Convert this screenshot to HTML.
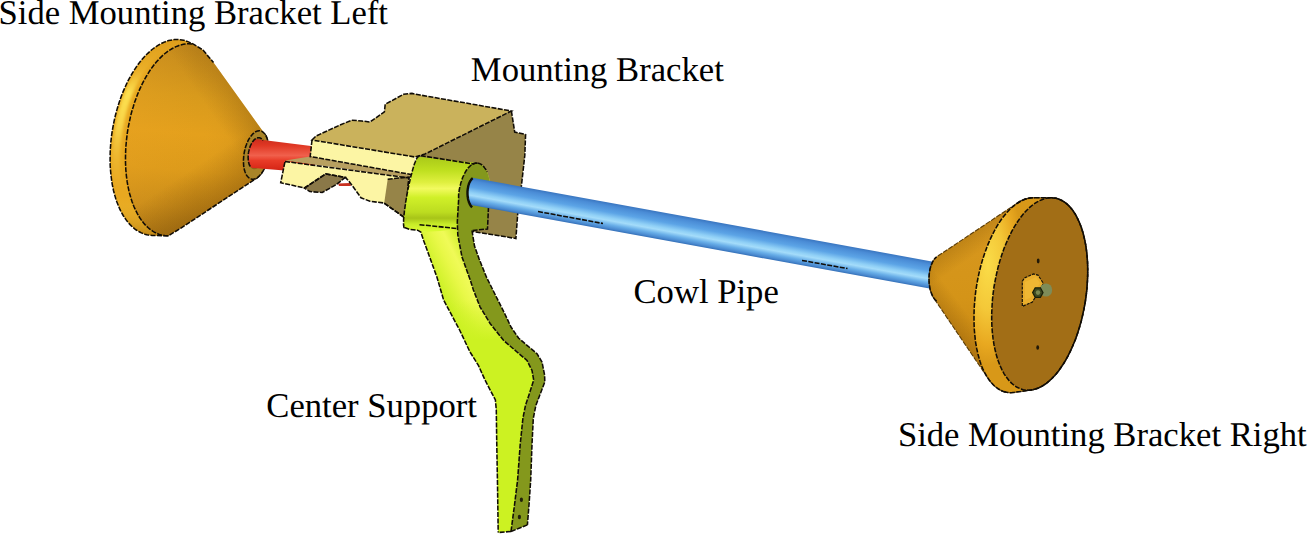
<!DOCTYPE html>
<html><head><meta charset="utf-8"><style>
html,body{margin:0;padding:0;background:#fff;width:1307px;height:537px;overflow:hidden}
svg{display:block}
text{font-family:"Liberation Serif",serif;font-size:34.63px;fill:#000;text-rendering:geometricPrecision}
</style></head><body>
<svg width="1307" height="537" viewBox="0 0 1307 537">
<defs><linearGradient id="lrim" gradientUnits="userSpaceOnUse" x1="109" y1="0" x2="128" y2="0">
<stop offset="0" stop-color="#e8a820"/><stop offset="0.35" stop-color="#f8d040"/><stop offset="0.65" stop-color="#f0bc30"/><stop offset="1" stop-color="#e0a020"/></linearGradient><linearGradient id="lrimv" gradientUnits="userSpaceOnUse" x1="0" y1="41" x2="0" y2="236">
<stop offset="0" stop-color="#d89818" stop-opacity="0.6"/><stop offset="0.2" stop-color="#e0a020" stop-opacity="0"/><stop offset="0.8" stop-color="#f8d040" stop-opacity="0"/><stop offset="1" stop-color="#b07810" stop-opacity="0.7"/></linearGradient><linearGradient id="lcone" gradientUnits="userSpaceOnUse" x1="200" y1="50" x2="185" y2="236">
<stop offset="0" stop-color="#c48a1c"/><stop offset="0.25" stop-color="#d89a1c"/><stop offset="0.45" stop-color="#e4a01c"/><stop offset="0.65" stop-color="#dc9a1a"/><stop offset="0.85" stop-color="#c48818"/><stop offset="1" stop-color="#a87414"/></linearGradient><linearGradient id="lconeh" gradientUnits="userSpaceOnUse" x1="130" y1="0" x2="265" y2="0">
<stop offset="0" stop-color="#eaa424" stop-opacity="0.3"/><stop offset="0.5" stop-color="#eaa424" stop-opacity="0"/><stop offset="1" stop-color="#805808" stop-opacity="0.25"/></linearGradient><clipPath id="lrimclip"><path d="M110.1,159.1 L110.1,155.8 L110.2,152.4 L110.3,149.0 L110.6,145.6 L110.8,142.2 L111.2,138.8 L111.6,135.3 L112.1,131.9 L112.7,128.5 L113.3,125.1 L114.0,121.7 L114.7,118.4 L115.5,115.0 L116.4,111.7 L117.3,108.4 L118.3,105.2 L119.3,102.0 L120.4,98.8 L121.5,95.7 L122.7,92.6 L124.0,89.6 L125.3,86.7 L126.6,83.8 L128.0,80.9 L129.5,78.2 L131.0,75.5 L132.5,72.9 L134.1,70.3 L135.7,67.9 L137.3,65.5 L139.0,63.2 L140.7,61.1 L142.4,59.0 L144.2,57.0 L146.0,55.1 L147.8,53.3 L149.7,51.6 L151.5,50.0 L153.4,48.5 L155.3,47.1 L157.2,45.9 L159.1,44.7 L161.0,43.7 L162.9,42.7 L164.8,41.9 L166.8,41.2 L168.7,40.6 L170.6,40.2 L172.5,39.8 L174.4,39.6 L176.3,39.5 L178.2,39.5 L180.0,39.7 L181.9,39.9 L183.7,40.3 L185.5,40.8 L187.3,41.4 L189.0,42.1 L190.8,43.0 L192.4,43.9 L194.1,45.0 L195.7,46.2 L197.3,47.5 L198.8,48.9 L200.3,50.4 L201.8,52.0 L203.2,53.7 L204.6,55.5 L205.9,57.5 L207.2,59.5 L208.4,61.6 L209.6,63.8 L210.7,66.1 L211.8,68.5 L212.8,71.0 L213.7,73.5 L214.6,76.2 L215.4,78.9 L216.2,81.7 L216.9,84.5 L217.5,87.4 L218.1,90.4 L218.6,93.4 L219.0,96.5 L219.4,99.6 L219.7,102.8 L220.0,106.0 L220.2,109.3 L220.3,112.6 L220.3,115.9 L220.3,119.2 L220.2,122.6 L220.1,126.0 L219.8,129.4 L219.6,132.8 L219.2,136.2 L218.8,139.7 L218.3,143.1 L217.7,146.5 L217.1,149.9 L216.4,153.3 L215.7,156.6 L214.9,160.0 L214.0,163.3 L213.1,166.6 L212.1,169.8 L211.1,173.0 L210.0,176.2 L208.9,179.3 L207.7,182.4 L206.4,185.4 L205.1,188.3 L203.8,191.2 L202.4,194.1 L200.9,196.8 L199.4,199.5 L197.9,202.1 L196.3,204.7 L194.7,207.1 L193.1,209.5 L191.4,211.8 L189.7,213.9 L188.0,216.0 L186.2,218.0 L184.4,219.9 L182.6,221.7 L168.3,235.8 L152.2,235.5 L150.4,235.3 L148.5,235.1 L146.7,234.7 L144.9,234.2 L143.1,233.6 L141.4,232.9 L139.7,232.0 L138.0,231.1 L136.3,230.0 L134.7,228.8 L133.1,227.5 L131.6,226.1 L130.1,224.6 L128.6,223.0 L127.2,221.3 L125.8,219.4 L124.5,217.5 L123.2,215.5 L122.0,213.4 L120.8,211.2 L119.7,208.9 L118.7,206.5 L117.7,204.0 L116.7,201.5 L115.8,198.8 L115.0,196.1 L114.2,193.3 L113.5,190.5 L112.9,187.6 L112.3,184.6 L111.8,181.6 L111.4,178.5 L111.0,175.4 L110.7,172.2 L110.4,169.0 L110.2,165.7 L110.1,162.4 Z"/></clipPath><linearGradient id="lrimhl" gradientUnits="userSpaceOnUse" x1="0" y1="41" x2="0" y2="236">
<stop offset="0" stop-color="#f8d040" stop-opacity="0"/><stop offset="0.18" stop-color="#f6c83c" stop-opacity="0.35"/><stop offset="0.3" stop-color="#fce050" stop-opacity="1"/><stop offset="0.48" stop-color="#f8d448" stop-opacity="1"/><stop offset="0.64" stop-color="#f4c840" stop-opacity="0.45"/><stop offset="0.8" stop-color="#f0c038" stop-opacity="0"/></linearGradient><filter id="blur2" x="-20%" y="-20%" width="140%" height="140%"><feGaussianBlur stdDeviation="1.5"/></filter><linearGradient id="lcb" gradientUnits="userSpaceOnUse" x1="214" y1="206" x2="190" y2="170">
<stop offset="0" stop-color="#805008" stop-opacity="0.4"/><stop offset="1" stop-color="#805008" stop-opacity="0"/></linearGradient><linearGradient id="lct" gradientUnits="userSpaceOnUse" x1="236" y1="94" x2="210" y2="112">
<stop offset="0" stop-color="#906010" stop-opacity="0.3"/><stop offset="1" stop-color="#906010" stop-opacity="0"/></linearGradient><linearGradient id="red" gradientUnits="userSpaceOnUse" x1="0" y1="139" x2="0" y2="172">
<stop offset="0" stop-color="#cc2c1c"/><stop offset="0.2" stop-color="#e03824"/><stop offset="0.5" stop-color="#f0604c"/><stop offset="0.65" stop-color="#e83c28"/><stop offset="0.9" stop-color="#d82818"/><stop offset="1" stop-color="#b82010"/></linearGradient><linearGradient id="ring" gradientUnits="userSpaceOnUse" x1="0" y1="156" x2="0" y2="230">
<stop offset="0" stop-color="#a8c818"/><stop offset="0.2" stop-color="#c0e020"/><stop offset="0.36" stop-color="#e0f040"/><stop offset="0.44" stop-color="#f2fa60"/><stop offset="0.56" stop-color="#d0f028"/><stop offset="0.76" stop-color="#bcdc20"/><stop offset="0.84" stop-color="#a8c418"/><stop offset="0.92" stop-color="#c8ec28"/><stop offset="1" stop-color="#d8f830"/></linearGradient><linearGradient id="arm" gradientUnits="userSpaceOnUse" x1="424" y1="262" x2="466" y2="241">
<stop offset="0" stop-color="#c8f020"/><stop offset="0.45" stop-color="#e8f848"/><stop offset="0.65" stop-color="#f0fa58"/><stop offset="1" stop-color="#c8ec20"/></linearGradient><linearGradient id="armv" gradientUnits="userSpaceOnUse" x1="0" y1="300" x2="0" y2="340">
<stop offset="0" stop-color="#ccf222" stop-opacity="0"/><stop offset="1" stop-color="#ccf222" stop-opacity="1"/></linearGradient><linearGradient id="blueR" x1="0" y1="0" x2="0" y2="1">
<stop offset="0" stop-color="#3a76c0"/><stop offset="0.12" stop-color="#4a8cd6"/><stop offset="0.35" stop-color="#5ca4e6"/><stop offset="0.55" stop-color="#90d0f6"/><stop offset="0.65" stop-color="#a4dcfa"/><stop offset="0.8" stop-color="#68aee8"/><stop offset="0.93" stop-color="#4a8ad0"/><stop offset="1" stop-color="#3470b8"/></linearGradient><clipPath id="pclip"><ellipse cx="475.5" cy="193" rx="8" ry="15.8"/><rect x="475.5" y="0" width="600" height="537"/></clipPath><linearGradient id="rcone" gradientUnits="userSpaceOnUse" x1="0" y1="205" x2="0" y2="390">
<stop offset="0" stop-color="#d89820"/><stop offset="0.5" stop-color="#d49418"/><stop offset="1" stop-color="#c08010"/></linearGradient><radialGradient id="rrim" gradientUnits="userSpaceOnUse" cx="988" cy="265" r="100" gradientTransform="translate(988 265) scale(0.35 1) translate(-988 -265)">
<stop offset="0" stop-color="#fadc48"/><stop offset="0.45" stop-color="#f4c838"/><stop offset="0.8" stop-color="#e8a820"/><stop offset="1" stop-color="#d89818"/></radialGradient><linearGradient id="rct" gradientUnits="userSpaceOnUse" x1="976" y1="231" x2="987" y2="247">
<stop offset="0" stop-color="#8a5a08" stop-opacity="0.3"/><stop offset="1" stop-color="#8a5a08" stop-opacity="0"/></linearGradient><linearGradient id="rcb" gradientUnits="userSpaceOnUse" x1="953" y1="325.5" x2="968" y2="314">
<stop offset="0" stop-color="#805008" stop-opacity="0.3"/><stop offset="1" stop-color="#805008" stop-opacity="0"/></linearGradient></defs>
<path d="M110.1,159.1 L110.1,155.8 L110.2,152.4 L110.3,149.0 L110.6,145.6 L110.8,142.2 L111.2,138.8 L111.6,135.3 L112.1,131.9 L112.7,128.5 L113.3,125.1 L114.0,121.7 L114.7,118.4 L115.5,115.0 L116.4,111.7 L117.3,108.4 L118.3,105.2 L119.3,102.0 L120.4,98.8 L121.5,95.7 L122.7,92.6 L124.0,89.6 L125.3,86.7 L126.6,83.8 L128.0,80.9 L129.5,78.2 L131.0,75.5 L132.5,72.9 L134.1,70.3 L135.7,67.9 L137.3,65.5 L139.0,63.2 L140.7,61.1 L142.4,59.0 L144.2,57.0 L146.0,55.1 L147.8,53.3 L149.7,51.6 L151.5,50.0 L153.4,48.5 L155.3,47.1 L157.2,45.9 L159.1,44.7 L161.0,43.7 L162.9,42.7 L164.8,41.9 L166.8,41.2 L168.7,40.6 L170.6,40.2 L172.5,39.8 L174.4,39.6 L176.3,39.5 L178.2,39.5 L180.0,39.7 L181.9,39.9 L183.7,40.3 L185.5,40.8 L187.3,41.4 L189.0,42.1 L190.8,43.0 L192.4,43.9 L194.1,45.0 L195.7,46.2 L197.3,47.5 L198.8,48.9 L200.3,50.4 L201.8,52.0 L203.2,53.7 L204.6,55.5 L205.9,57.5 L207.2,59.5 L208.4,61.6 L209.6,63.8 L210.7,66.1 L211.8,68.5 L212.8,71.0 L213.7,73.5 L214.6,76.2 L215.4,78.9 L216.2,81.7 L216.9,84.5 L217.5,87.4 L218.1,90.4 L218.6,93.4 L219.0,96.5 L219.4,99.6 L219.7,102.8 L220.0,106.0 L220.2,109.3 L220.3,112.6 L220.3,115.9 L220.3,119.2 L220.2,122.6 L220.1,126.0 L219.8,129.4 L219.6,132.8 L219.2,136.2 L218.8,139.7 L218.3,143.1 L217.7,146.5 L217.1,149.9 L216.4,153.3 L215.7,156.6 L214.9,160.0 L214.0,163.3 L213.1,166.6 L212.1,169.8 L211.1,173.0 L210.0,176.2 L208.9,179.3 L207.7,182.4 L206.4,185.4 L205.1,188.3 L203.8,191.2 L202.4,194.1 L200.9,196.8 L199.4,199.5 L197.9,202.1 L196.3,204.7 L194.7,207.1 L193.1,209.5 L191.4,211.8 L189.7,213.9 L188.0,216.0 L186.2,218.0 L184.4,219.9 L182.6,221.7 L168.3,235.8 L152.2,235.5 L150.4,235.3 L148.5,235.1 L146.7,234.7 L144.9,234.2 L143.1,233.6 L141.4,232.9 L139.7,232.0 L138.0,231.1 L136.3,230.0 L134.7,228.8 L133.1,227.5 L131.6,226.1 L130.1,224.6 L128.6,223.0 L127.2,221.3 L125.8,219.4 L124.5,217.5 L123.2,215.5 L122.0,213.4 L120.8,211.2 L119.7,208.9 L118.7,206.5 L117.7,204.0 L116.7,201.5 L115.8,198.8 L115.0,196.1 L114.2,193.3 L113.5,190.5 L112.9,187.6 L112.3,184.6 L111.8,181.6 L111.4,178.5 L111.0,175.4 L110.7,172.2 L110.4,169.0 L110.2,165.7 L110.1,162.4 Z" fill="#e8a820"/>
<g clip-path="url(#lrimclip)"><ellipse cx="170.39999999999998" cy="138.65" rx="52.5" ry="97.9" transform="rotate(9.149999999999999 170.39999999999998 138.65)" fill="none" stroke="url(#lrimhl)" stroke-width="8" filter="url(#blur2)"/></g>
<path d="M110.1,159.1 L110.1,155.8 L110.2,152.4 L110.3,149.0 L110.6,145.6 L110.8,142.2 L111.2,138.8 L111.6,135.3 L112.1,131.9 L112.7,128.5 L113.3,125.1 L114.0,121.7 L114.7,118.4 L115.5,115.0 L116.4,111.7 L117.3,108.4 L118.3,105.2 L119.3,102.0 L120.4,98.8 L121.5,95.7 L122.7,92.6 L124.0,89.6 L125.3,86.7 L126.6,83.8 L128.0,80.9 L129.5,78.2 L131.0,75.5 L132.5,72.9 L134.1,70.3 L135.7,67.9 L137.3,65.5 L139.0,63.2 L140.7,61.1 L142.4,59.0 L144.2,57.0 L146.0,55.1 L147.8,53.3 L149.7,51.6 L151.5,50.0 L153.4,48.5 L155.3,47.1 L157.2,45.9 L159.1,44.7 L161.0,43.7 L162.9,42.7 L164.8,41.9 L166.8,41.2 L168.7,40.6 L170.6,40.2 L172.5,39.8 L174.4,39.6 L176.3,39.5 L178.2,39.5 L180.0,39.7 L181.9,39.9 L183.7,40.3 L185.5,40.8 L187.3,41.4 L189.0,42.1 L190.8,43.0 L192.4,43.9 L194.1,45.0 L195.7,46.2 L197.3,47.5 L198.8,48.9 L200.3,50.4 L201.8,52.0 L203.2,53.7 L204.6,55.5 L205.9,57.5 L207.2,59.5 L208.4,61.6 L209.6,63.8 L210.7,66.1 L211.8,68.5 L212.8,71.0 L213.7,73.5 L214.6,76.2 L215.4,78.9 L216.2,81.7 L216.9,84.5 L217.5,87.4 L218.1,90.4 L218.6,93.4 L219.0,96.5 L219.4,99.6 L219.7,102.8 L220.0,106.0 L220.2,109.3 L220.3,112.6 L220.3,115.9 L220.3,119.2 L220.2,122.6 L220.1,126.0 L219.8,129.4 L219.6,132.8 L219.2,136.2 L218.8,139.7 L218.3,143.1 L217.7,146.5 L217.1,149.9 L216.4,153.3 L215.7,156.6 L214.9,160.0 L214.0,163.3 L213.1,166.6 L212.1,169.8 L211.1,173.0 L210.0,176.2 L208.9,179.3 L207.7,182.4 L206.4,185.4 L205.1,188.3 L203.8,191.2 L202.4,194.1 L200.9,196.8 L199.4,199.5 L197.9,202.1 L196.3,204.7 L194.7,207.1 L193.1,209.5 L191.4,211.8 L189.7,213.9 L188.0,216.0 L186.2,218.0 L184.4,219.9 L182.6,221.7 L168.3,235.8 L152.2,235.5 L150.4,235.3 L148.5,235.1 L146.7,234.7 L144.9,234.2 L143.1,233.6 L141.4,232.9 L139.7,232.0 L138.0,231.1 L136.3,230.0 L134.7,228.8 L133.1,227.5 L131.6,226.1 L130.1,224.6 L128.6,223.0 L127.2,221.3 L125.8,219.4 L124.5,217.5 L123.2,215.5 L122.0,213.4 L120.8,211.2 L119.7,208.9 L118.7,206.5 L117.7,204.0 L116.7,201.5 L115.8,198.8 L115.0,196.1 L114.2,193.3 L113.5,190.5 L112.9,187.6 L112.3,184.6 L111.8,181.6 L111.4,178.5 L111.0,175.4 L110.7,172.2 L110.4,169.0 L110.2,165.7 L110.1,162.4 Z" fill="url(#lrimv)"/>
<path d="M125.5,156.5 L125.5,153.2 L125.7,149.8 L125.9,146.5 L126.2,143.2 L126.5,139.8 L126.9,136.4 L127.3,133.1 L127.8,129.8 L128.4,126.4 L129.1,123.1 L129.8,119.8 L130.5,116.6 L131.3,113.3 L132.2,110.1 L133.2,107.0 L134.1,103.8 L135.2,100.7 L136.3,97.7 L137.4,94.7 L138.6,91.8 L139.9,88.9 L141.2,86.1 L142.5,83.4 L143.9,80.7 L145.3,78.1 L146.8,75.5 L148.3,73.1 L149.8,70.7 L151.4,68.4 L153.0,66.2 L154.6,64.1 L156.3,62.1 L158.0,60.2 L159.7,58.4 L161.5,56.6 L163.2,55.0 L165.0,53.5 L166.8,52.1 L168.6,50.8 L170.5,49.6 L172.3,48.5 L174.2,47.5 L176.0,46.6 L177.8,45.9 L179.7,45.2 L181.6,44.7 L183.4,44.3 L185.2,44.0 L187.1,43.8 L188.9,43.8 L193.4,44.1 L203.0,50.0 L213.5,62.6 L265.0,134.2 L265.3,134.7 L265.6,135.2 L265.9,135.6 L266.1,136.2 L266.4,136.7 L266.6,137.3 L266.9,137.9 L267.1,138.5 L267.3,139.1 L267.5,139.7 L267.6,140.4 L267.8,141.1 L267.9,141.8 L268.1,142.5 L268.2,143.2 L268.3,144.0 L268.4,144.7 L268.4,145.5 L268.5,146.3 L268.5,147.1 L268.6,147.9 L268.6,148.7 L268.6,149.5 L268.5,150.3 L268.5,151.2 L268.4,152.9 L268.3,153.7 L268.2,154.6 L268.1,155.4 L268.0,156.2 L267.8,157.1 L267.7,157.9 L267.5,158.8 L267.3,159.6 L267.1,160.4 L266.9,161.2 L266.7,162.1 L266.4,162.9 L266.2,163.7 L265.9,164.4 L265.6,165.2 L265.4,166.0 L265.1,166.7 L264.8,167.4 L264.4,168.2 L264.1,168.9 L263.8,169.6 L263.4,170.2 L263.1,170.9 L262.7,171.5 L262.3,172.1 L261.9,172.7 L261.6,173.3 L261.1,173.8 L260.8,174.3 L260.3,174.8 L259.9,175.3 L259.5,175.7 L259.1,176.2 L258.6,176.6 L258.2,176.9 L257.8,177.3 L257.4,177.6 L180.6,228.3 L168.3,235.8 L166.5,235.8 L164.7,235.6 L162.9,235.3 L161.1,234.9 L159.4,234.4 L157.7,233.7 L156.0,233.0 L154.3,232.1 L152.7,231.1 L151.1,230.0 L149.5,228.8 L148.0,227.5 L146.5,226.1 L145.0,224.6 L143.6,223.0 L142.2,221.2 L140.9,219.4 L139.6,217.5 L138.4,215.5 L137.2,213.4 L136.1,211.2 L135.0,208.9 L133.9,206.5 L133.0,204.1 L132.1,201.5 L131.2,198.9 L130.4,196.2 L129.6,193.5 L128.9,190.7 L128.3,187.8 L127.7,184.9 L127.2,181.9 L126.8,178.9 L126.4,175.8 L126.1,172.6 L125.8,169.5 L125.7,166.3 L125.5,163.0 L125.5,159.8 Z" fill="url(#lcone)"/>
<path d="M125.5,156.5 L125.5,153.2 L125.7,149.8 L125.9,146.5 L126.2,143.2 L126.5,139.8 L126.9,136.4 L127.3,133.1 L127.8,129.8 L128.4,126.4 L129.1,123.1 L129.8,119.8 L130.5,116.6 L131.3,113.3 L132.2,110.1 L133.2,107.0 L134.1,103.8 L135.2,100.7 L136.3,97.7 L137.4,94.7 L138.6,91.8 L139.9,88.9 L141.2,86.1 L142.5,83.4 L143.9,80.7 L145.3,78.1 L146.8,75.5 L148.3,73.1 L149.8,70.7 L151.4,68.4 L153.0,66.2 L154.6,64.1 L156.3,62.1 L158.0,60.2 L159.7,58.4 L161.5,56.6 L163.2,55.0 L165.0,53.5 L166.8,52.1 L168.6,50.8 L170.5,49.6 L172.3,48.5 L174.2,47.5 L176.0,46.6 L177.8,45.9 L179.7,45.2 L181.6,44.7 L183.4,44.3 L185.2,44.0 L187.1,43.8 L188.9,43.8 L193.4,44.1 L203.0,50.0 L213.5,62.6 L265.0,134.2 L265.3,134.7 L265.6,135.2 L265.9,135.6 L266.1,136.2 L266.4,136.7 L266.6,137.3 L266.9,137.9 L267.1,138.5 L267.3,139.1 L267.5,139.7 L267.6,140.4 L267.8,141.1 L267.9,141.8 L268.1,142.5 L268.2,143.2 L268.3,144.0 L268.4,144.7 L268.4,145.5 L268.5,146.3 L268.5,147.1 L268.6,147.9 L268.6,148.7 L268.6,149.5 L268.5,150.3 L268.5,151.2 L268.4,152.9 L268.3,153.7 L268.2,154.6 L268.1,155.4 L268.0,156.2 L267.8,157.1 L267.7,157.9 L267.5,158.8 L267.3,159.6 L267.1,160.4 L266.9,161.2 L266.7,162.1 L266.4,162.9 L266.2,163.7 L265.9,164.4 L265.6,165.2 L265.4,166.0 L265.1,166.7 L264.8,167.4 L264.4,168.2 L264.1,168.9 L263.8,169.6 L263.4,170.2 L263.1,170.9 L262.7,171.5 L262.3,172.1 L261.9,172.7 L261.6,173.3 L261.1,173.8 L260.8,174.3 L260.3,174.8 L259.9,175.3 L259.5,175.7 L259.1,176.2 L258.6,176.6 L258.2,176.9 L257.8,177.3 L257.4,177.6 L180.6,228.3 L168.3,235.8 L166.5,235.8 L164.7,235.6 L162.9,235.3 L161.1,234.9 L159.4,234.4 L157.7,233.7 L156.0,233.0 L154.3,232.1 L152.7,231.1 L151.1,230.0 L149.5,228.8 L148.0,227.5 L146.5,226.1 L145.0,224.6 L143.6,223.0 L142.2,221.2 L140.9,219.4 L139.6,217.5 L138.4,215.5 L137.2,213.4 L136.1,211.2 L135.0,208.9 L133.9,206.5 L133.0,204.1 L132.1,201.5 L131.2,198.9 L130.4,196.2 L129.6,193.5 L128.9,190.7 L128.3,187.8 L127.7,184.9 L127.2,181.9 L126.8,178.9 L126.4,175.8 L126.1,172.6 L125.8,169.5 L125.7,166.3 L125.5,163.0 L125.5,159.8 Z" fill="url(#lconeh)"/>
<path d="M125.5,156.5 L125.5,153.2 L125.7,149.8 L125.9,146.5 L126.2,143.2 L126.5,139.8 L126.9,136.4 L127.3,133.1 L127.8,129.8 L128.4,126.4 L129.1,123.1 L129.8,119.8 L130.5,116.6 L131.3,113.3 L132.2,110.1 L133.2,107.0 L134.1,103.8 L135.2,100.7 L136.3,97.7 L137.4,94.7 L138.6,91.8 L139.9,88.9 L141.2,86.1 L142.5,83.4 L143.9,80.7 L145.3,78.1 L146.8,75.5 L148.3,73.1 L149.8,70.7 L151.4,68.4 L153.0,66.2 L154.6,64.1 L156.3,62.1 L158.0,60.2 L159.7,58.4 L161.5,56.6 L163.2,55.0 L165.0,53.5 L166.8,52.1 L168.6,50.8 L170.5,49.6 L172.3,48.5 L174.2,47.5 L176.0,46.6 L177.8,45.9 L179.7,45.2 L181.6,44.7 L183.4,44.3 L185.2,44.0 L187.1,43.8 L188.9,43.8 L193.4,44.1 L203.0,50.0 L213.5,62.6 L265.0,134.2 L265.3,134.7 L265.6,135.2 L265.9,135.6 L266.1,136.2 L266.4,136.7 L266.6,137.3 L266.9,137.9 L267.1,138.5 L267.3,139.1 L267.5,139.7 L267.6,140.4 L267.8,141.1 L267.9,141.8 L268.1,142.5 L268.2,143.2 L268.3,144.0 L268.4,144.7 L268.4,145.5 L268.5,146.3 L268.5,147.1 L268.6,147.9 L268.6,148.7 L268.6,149.5 L268.5,150.3 L268.5,151.2 L268.4,152.9 L268.3,153.7 L268.2,154.6 L268.1,155.4 L268.0,156.2 L267.8,157.1 L267.7,157.9 L267.5,158.8 L267.3,159.6 L267.1,160.4 L266.9,161.2 L266.7,162.1 L266.4,162.9 L266.2,163.7 L265.9,164.4 L265.6,165.2 L265.4,166.0 L265.1,166.7 L264.8,167.4 L264.4,168.2 L264.1,168.9 L263.8,169.6 L263.4,170.2 L263.1,170.9 L262.7,171.5 L262.3,172.1 L261.9,172.7 L261.6,173.3 L261.1,173.8 L260.8,174.3 L260.3,174.8 L259.9,175.3 L259.5,175.7 L259.1,176.2 L258.6,176.6 L258.2,176.9 L257.8,177.3 L257.4,177.6 L180.6,228.3 L168.3,235.8 L166.5,235.8 L164.7,235.6 L162.9,235.3 L161.1,234.9 L159.4,234.4 L157.7,233.7 L156.0,233.0 L154.3,232.1 L152.7,231.1 L151.1,230.0 L149.5,228.8 L148.0,227.5 L146.5,226.1 L145.0,224.6 L143.6,223.0 L142.2,221.2 L140.9,219.4 L139.6,217.5 L138.4,215.5 L137.2,213.4 L136.1,211.2 L135.0,208.9 L133.9,206.5 L133.0,204.1 L132.1,201.5 L131.2,198.9 L130.4,196.2 L129.6,193.5 L128.9,190.7 L128.3,187.8 L127.7,184.9 L127.2,181.9 L126.8,178.9 L126.4,175.8 L126.1,172.6 L125.8,169.5 L125.7,166.3 L125.5,163.0 L125.5,159.8 Z" fill="url(#lcb)"/>
<path d="M125.5,156.5 L125.5,153.2 L125.7,149.8 L125.9,146.5 L126.2,143.2 L126.5,139.8 L126.9,136.4 L127.3,133.1 L127.8,129.8 L128.4,126.4 L129.1,123.1 L129.8,119.8 L130.5,116.6 L131.3,113.3 L132.2,110.1 L133.2,107.0 L134.1,103.8 L135.2,100.7 L136.3,97.7 L137.4,94.7 L138.6,91.8 L139.9,88.9 L141.2,86.1 L142.5,83.4 L143.9,80.7 L145.3,78.1 L146.8,75.5 L148.3,73.1 L149.8,70.7 L151.4,68.4 L153.0,66.2 L154.6,64.1 L156.3,62.1 L158.0,60.2 L159.7,58.4 L161.5,56.6 L163.2,55.0 L165.0,53.5 L166.8,52.1 L168.6,50.8 L170.5,49.6 L172.3,48.5 L174.2,47.5 L176.0,46.6 L177.8,45.9 L179.7,45.2 L181.6,44.7 L183.4,44.3 L185.2,44.0 L187.1,43.8 L188.9,43.8 L193.4,44.1 L203.0,50.0 L213.5,62.6 L265.0,134.2 L265.3,134.7 L265.6,135.2 L265.9,135.6 L266.1,136.2 L266.4,136.7 L266.6,137.3 L266.9,137.9 L267.1,138.5 L267.3,139.1 L267.5,139.7 L267.6,140.4 L267.8,141.1 L267.9,141.8 L268.1,142.5 L268.2,143.2 L268.3,144.0 L268.4,144.7 L268.4,145.5 L268.5,146.3 L268.5,147.1 L268.6,147.9 L268.6,148.7 L268.6,149.5 L268.5,150.3 L268.5,151.2 L268.4,152.9 L268.3,153.7 L268.2,154.6 L268.1,155.4 L268.0,156.2 L267.8,157.1 L267.7,157.9 L267.5,158.8 L267.3,159.6 L267.1,160.4 L266.9,161.2 L266.7,162.1 L266.4,162.9 L266.2,163.7 L265.9,164.4 L265.6,165.2 L265.4,166.0 L265.1,166.7 L264.8,167.4 L264.4,168.2 L264.1,168.9 L263.8,169.6 L263.4,170.2 L263.1,170.9 L262.7,171.5 L262.3,172.1 L261.9,172.7 L261.6,173.3 L261.1,173.8 L260.8,174.3 L260.3,174.8 L259.9,175.3 L259.5,175.7 L259.1,176.2 L258.6,176.6 L258.2,176.9 L257.8,177.3 L257.4,177.6 L180.6,228.3 L168.3,235.8 L166.5,235.8 L164.7,235.6 L162.9,235.3 L161.1,234.9 L159.4,234.4 L157.7,233.7 L156.0,233.0 L154.3,232.1 L152.7,231.1 L151.1,230.0 L149.5,228.8 L148.0,227.5 L146.5,226.1 L145.0,224.6 L143.6,223.0 L142.2,221.2 L140.9,219.4 L139.6,217.5 L138.4,215.5 L137.2,213.4 L136.1,211.2 L135.0,208.9 L133.9,206.5 L133.0,204.1 L132.1,201.5 L131.2,198.9 L130.4,196.2 L129.6,193.5 L128.9,190.7 L128.3,187.8 L127.7,184.9 L127.2,181.9 L126.8,178.9 L126.4,175.8 L126.1,172.6 L125.8,169.5 L125.7,166.3 L125.5,163.0 L125.5,159.8 Z" fill="url(#lct)"/>
<path d="M265.0,134.2 L265.3,134.7 L265.6,135.2 L265.9,135.6 L266.1,136.2 L266.4,136.7 L266.6,137.3 L266.9,137.9 L267.1,138.5 L267.3,139.1 L267.5,139.7 L267.6,140.4 L267.8,141.1 L267.9,141.8 L268.1,142.5 L268.2,143.2 L268.3,144.0 L268.4,144.7 L268.4,145.5 L268.5,146.3 L268.5,147.1 L268.6,147.9 L268.6,148.7 L268.6,149.5 L268.5,150.3 L268.5,151.2 L268.4,152.9 L268.3,153.7 L268.2,154.6 L268.1,155.4 L268.0,156.2 L267.8,157.1 L267.7,157.9 L267.5,158.8 L267.3,159.6 L267.1,160.4 L266.9,161.2 L266.7,162.1 L266.4,162.9 L266.2,163.7 L265.9,164.4 L265.6,165.2 L265.4,166.0 L265.1,166.7 L264.8,167.4 L264.4,168.2 L264.1,168.9 L263.8,169.6 L263.4,170.2 L263.1,170.9 L262.7,171.5 L262.3,172.1 L261.9,172.7 L261.6,173.3 L261.1,173.8 L260.8,174.3 L260.3,174.8 L259.9,175.3 L259.5,175.7 L259.1,176.2 L258.6,176.6 L258.2,176.9 L257.8,177.3 L257.4,177.6 L180.6,228.3 L168.3,235.8 L152.2,235.5 L150.4,235.3 L148.5,235.1 L146.7,234.7 L144.9,234.2 L143.1,233.6 L141.4,232.9 L139.7,232.0 L138.0,231.1 L136.3,230.0 L134.7,228.8 L133.1,227.5 L131.6,226.1 L130.1,224.6 L128.6,223.0 L127.2,221.3 L125.8,219.4 L124.5,217.5 L123.2,215.5 L122.0,213.4 L120.8,211.2 L119.7,208.9 L118.7,206.5 L117.7,204.0 L116.7,201.5 L115.8,198.8 L115.0,196.1 L114.2,193.3 L113.5,190.5 L112.9,187.6 L112.3,184.6 L111.8,181.6 L111.4,178.5 L111.0,175.4 L110.7,172.2 L110.4,169.0 L110.2,165.7 L110.1,162.4 L110.1,159.1 L110.1,155.8 L110.2,152.4 L110.3,149.0 L110.6,145.6 L110.8,142.2 L111.2,138.8 L111.6,135.3 L112.1,131.9 L112.7,128.5 L113.3,125.1 L114.0,121.7 L114.7,118.4 L115.5,115.0 L116.4,111.7 L117.3,108.4 L118.3,105.2 L119.3,102.0 L120.4,98.8 L121.5,95.7 L122.7,92.6 L124.0,89.6 L125.3,86.7 L126.6,83.8 L128.0,80.9 L129.5,78.2 L131.0,75.5 L132.5,72.9 L134.1,70.3 L135.7,67.9 L137.3,65.5 L139.0,63.2 L140.7,61.1 L142.4,59.0 L144.2,57.0 L146.0,55.1 L147.8,53.3 L149.7,51.6 L151.5,50.0 L153.4,48.5 L155.3,47.1 L157.2,45.9 L159.1,44.7 L161.0,43.7 L162.9,42.7 L164.8,41.9 L166.8,41.2 L168.7,40.6 L170.6,40.2 L172.5,39.8 L174.4,39.6 L176.3,39.5 L178.2,39.5 L180.0,39.7 L181.9,39.9 L183.7,40.3 L185.5,40.8 L187.3,41.4 L189.0,42.1 L193.4,44.1 L203.0,50.0 L213.5,62.6" stroke="#100c06" stroke-width="1.55" stroke-dasharray="5 1.4" fill="none"/>
<path d="M168.3,235.8 L166.5,235.8 L164.7,235.6 L162.9,235.3 L161.1,234.9 L159.4,234.4 L157.7,233.7 L156.0,233.0 L154.3,232.1 L152.7,231.1 L151.1,230.0 L149.5,228.8 L148.0,227.5 L146.5,226.1 L145.0,224.6 L143.6,223.0 L142.2,221.2 L140.9,219.4 L139.6,217.5 L138.4,215.5 L137.2,213.4 L136.1,211.2 L135.0,208.9 L133.9,206.5 L133.0,204.1 L132.0,201.5 L131.2,198.9 L130.4,196.2 L129.6,193.5 L128.9,190.7 L128.3,187.8 L127.7,184.9 L127.2,181.9 L126.8,178.9 L126.4,175.8 L126.1,172.6 L125.8,169.5 L125.7,166.3 L125.5,163.0 L125.5,159.8 L125.5,156.5 L125.6,153.2 L125.7,149.8 L125.9,146.5 L126.2,143.2 L126.5,139.8 L126.9,136.4 L127.3,133.1 L127.8,129.8 L128.4,126.4 L129.1,123.1 L129.8,119.8 L130.5,116.6 L131.3,113.3 L132.2,110.1 L133.2,107.0 L134.1,103.8 L135.2,100.7 L136.3,97.7 L137.4,94.7 L138.6,91.8 L139.9,88.9 L141.2,86.1 L142.5,83.4 L143.9,80.7 L145.3,78.1 L146.8,75.5 L148.3,73.1 L149.8,70.7 L151.4,68.4 L153.0,66.2 L154.6,64.1 L156.3,62.1 L158.0,60.2 L159.7,58.4 L161.5,56.6 L163.2,55.0 L165.0,53.5 L166.8,52.1 L168.6,50.8 L170.5,49.6 L172.3,48.5 L174.1,47.5 L176.0,46.6 L177.9,45.9 L179.7,45.2 L181.6,44.7 L183.4,44.3 L185.3,44.0 L187.1,43.8 L188.9,43.8 L193.4,44.1" stroke="#100c06" stroke-width="1.55" stroke-dasharray="5 1.4" fill="none"/>
<ellipse cx="256" cy="155" rx="12" ry="24.5" transform="rotate(10 256 155)" fill="#a88428"/>
<path d="M267.8,157.1 L267.5,158.8 L267.1,160.4 L266.7,162.1 L266.2,163.7 L265.6,165.2 L265.1,166.7 L264.4,168.2 L263.8,169.6 L263.1,170.9 L262.3,172.1 L261.5,173.3 L260.7,174.3 L259.9,175.3 L259.1,176.2 L258.2,176.9 L257.4,177.6 L256.5,178.2 L255.6,178.6 L254.7,178.9 L253.9,179.1 L253.0,179.2 L252.2,179.2 L251.3,179.0 L250.5,178.8 L249.8,178.4 L249.0,177.9 L248.3,177.3 L247.6,176.6 L247.0,175.8 L246.4,174.9 L245.9,173.8 L245.4,172.7 L244.9,171.5 L244.5,170.3 L244.2,168.9 L243.9,167.5 L243.7,166.0 L243.6,164.5 L243.5,162.9 L243.4,161.3 L243.5,159.6 L243.6,158.0 L243.7,156.3 L243.9,154.6 L244.2,152.9 L244.5,151.2 L244.9,149.6 L245.3,147.9 L245.8,146.3 L246.4,144.8 L246.9,143.3 L247.6,141.8 L248.2,140.4 L248.9,139.1 L249.7,137.9 L250.5,136.7 L251.3,135.7 L252.1,134.7 L252.9,133.8 L253.8,133.1 L254.6,132.4 L255.5,131.8 L256.4,131.4 L257.3,131.1 L258.1,130.9 L259.0,130.8 L259.8,130.8 L260.7,131.0 L261.5,131.2 L262.2,131.6 L263.0,132.1 L263.7,132.7 L264.4,133.4 L265.0,134.2 L265.6,135.1 L266.1,136.2 L266.6,137.3 L267.1,138.5 L267.5,139.7 L267.8,141.1 L268.1,142.5 L268.3,144.0 L268.4,145.5 L268.5,147.1 L268.6,148.7 L268.5,150.4 L268.4,152.0 L268.3,153.7 L268.1,155.4 L267.8,157.1" stroke="#100c06" stroke-width="1.55" stroke-dasharray="5 1.4" fill="none"/>
<ellipse cx="256.5" cy="153.5" rx="8" ry="16" transform="rotate(10 256.5 153.5)" fill="#8a6818"/>
<path d="M257,139.3 L315,146.5 L315,173 L252.5,168 A6.5,14.5 8 0 1 257,139.3 Z" fill="url(#red)"/>
<path d="M250.2,166.5 L250.0,166.1 L249.8,165.8 L249.6,165.4 L249.5,165.1 L249.3,164.7 L249.2,164.3 L249.0,163.9 L248.9,163.4 L248.8,163.0 L248.7,162.6 L248.6,162.1 L248.5,161.6 L248.4,161.2 L248.3,160.7 L248.3,160.2 L248.2,159.7 L248.2,159.2 L248.2,158.6 L248.2,158.1 L248.1,157.6 L248.1,157.0 L248.2,156.5 L248.2,156.0 L248.2,155.4 L248.3,154.9 L248.3,154.3 L248.4,153.8 L248.4,153.2 L248.5,152.7 L248.6,152.1 L248.7,151.6 L248.8,151.0 L249.0,150.5 L249.1,149.9 L249.2,149.4 L249.4,148.9 L249.5,148.3 L249.7,147.8 L249.9,147.3 L250.0,146.8 L250.2,146.3 L250.4,145.8 L250.6,145.3 L250.8,144.9 L251.1,144.4 L251.3,144.0 L251.5,143.5 L251.8,143.1 L252.0,142.7 L252.3,142.3 L252.5,141.9 L252.8,141.6 L253.0,141.2 L253.3,140.9 L253.6,140.5 L253.8,140.2 L254.1,139.9 L254.4,139.7 L254.7,139.4 L255.0,139.2 L255.3,138.9 L255.5,138.7 L255.8,138.5 L256.1,138.4 L256.4,138.2 L256.7,138.1 L257.0,138.0 L257.3,137.9 L257.6,137.8 L257.9,137.7 L258.2,137.7 L258.4,137.7 L258.7,137.7 L259.0,137.7 L259.3,137.7 L259.6,137.8 L259.8,137.9 L260.1,138.0 L260.3,138.1 L260.6,138.2 L260.9,138.4 L261.1,138.5 L261.3,138.7 L261.6,138.9 L261.8,139.2 L262.0,139.4 L262.2,139.7 L262.5,139.9 L262.7,140.2 L262.8,140.5" stroke="#100c06" stroke-width="1.55" stroke-dasharray="5 1.4" fill="none"/>
<path d="M511.4,111.0 L514.7,132.0 L525.6,134.5 L524.8,155.4 L521.4,186.0 L517.7,214.0 L515.9,238.5 L470.0,231.0 L420.0,225.0 L420.0,156.0 L425.0,154.0 Z" fill="#968448"/>
<path d="M312.0,140.0 L316.0,136.0 L340.0,125.0 L351.7,120.2 L362.0,121.0 L370.0,122.0 L384.4,111.8 L385.2,104.3 L403.7,94.2 L412.0,93.4 L420.0,95.0 L511.4,111.0 L425.0,154.0 L415.0,157.0 Z" fill="#cab25c"/>
<path d="M312.0,140.0 L415.0,157.0 L414.0,175.0 L310.2,156.5 Z" fill="#fcf5a4"/>
<path d="M310.2,156.5 L414.0,175.0 L409.0,178.0 L285.0,160.5 Z" fill="#b8a060"/>
<path d="M285.0,161.5 L409.0,178.0 L405.0,218.0 L384.0,203.0 L370.0,201.3 L361.0,197.8 L354.0,188.0 L348.8,181.0 L345.3,177.4 L325.8,173.9 L304.5,188.0 L280.7,182.7 Z" fill="#fcf5a4"/>
<path d="M387.7,179.2 L409.0,177.0 L405.0,218.0 L384.2,203.1 Z" fill="#968448"/>
<path d="M304.5,188.0 L325.8,173.9 L345.3,177.4 L336.4,184.5 L322.2,192.5 L309.9,191.6 Z" fill="#8a7848"/>
<path d="M338.0,183.5 L350.0,183.0 L351.0,186.0 L339.0,186.0 Z" fill="#c83020"/>
<path d="M312.0,140.0 L316.0,136.0 L340.0,125.0 L351.7,120.2 L362.0,121.0 L370.0,122.0 L384.4,111.8 L385.2,104.3 L403.7,94.2 L412.0,93.4 L420.0,95.0 L511.4,111.0 L425.0,154.0 L415.0,157.0 Z" stroke="#100c06" stroke-width="1.55" stroke-dasharray="5 1.4" fill="none"/>
<path d="M511.4,111.0 L514.7,132.0 L525.6,134.5 L524.8,155.4 L521.4,186.0 L517.7,214.0 L515.9,238.5 L470.0,231.0" stroke="#100c06" stroke-width="1.55" stroke-dasharray="5 1.4" fill="none"/>
<path d="M312.0,140.0 L310.2,156.5 L414.0,175.0" stroke="#100c06" stroke-width="1.55" stroke-dasharray="5 1.4" fill="none"/>
<path d="M285.0,161.5 L409.0,178.0 L405.0,218.0 L384.0,203.0 L370.0,201.3 L361.0,197.8 L354.0,188.0 L348.8,181.0 L345.3,177.4 L325.8,173.9 L304.5,188.0 L280.7,182.7 Z" stroke="#100c06" stroke-width="1.55" stroke-dasharray="5 1.4" fill="none"/>
<path d="M304.5,188.0 L325.8,173.9 L345.3,177.4 L336.4,184.5 L322.2,192.5 L309.9,191.6 Z" stroke="#100c06" stroke-width="1.55" stroke-dasharray="5 1.4" fill="none"/>
<path d="M387.7,179.2 L409.0,177.0 L405.0,218.0 L384.2,203.1" stroke="#100c06" stroke-width="1.55" stroke-dasharray="5 1.4" fill="none"/>
<path d="M420.8,232.0 L457.0,226.0 L457.8,235.0 L462.0,257.0 L470.4,280.4 L473.4,290.0 L480.0,306.8 L490.1,323.5 L503.5,340.3 L517.0,352.0 L527.0,360.4 L532.0,370.4 L533.7,380.0 L530.7,389.6 L525.5,405.3 L522.9,418.3 L520.2,444.4 L517.6,480.0 L514.5,505.0 L511.0,531.5 L498.2,532.5 L497.5,484.0 L496.7,440.0 L496.3,410.0 L495.4,400.0 L485.0,380.0 L478.4,365.4 L470.0,352.0 L459.6,330.0 L443.6,300.0 L436.9,277.0 L423.5,240.2 Z" fill="url(#arm)"/>
<path d="M420.8,232.0 L457.0,226.0 L457.8,235.0 L462.0,257.0 L470.4,280.4 L473.4,290.0 L480.0,306.8 L490.1,323.5 L503.5,340.3 L517.0,352.0 L527.0,360.4 L532.0,370.4 L533.7,380.0 L530.7,389.6 L525.5,405.3 L522.9,418.3 L520.2,444.4 L517.6,480.0 L514.5,505.0 L511.0,531.5 L498.2,532.5 L497.5,484.0 L496.7,440.0 L496.3,410.0 L495.4,400.0 L485.0,380.0 L478.4,365.4 L470.0,352.0 L459.6,330.0 L443.6,300.0 L436.9,277.0 L423.5,240.2 Z" fill="url(#armv)"/>
<path d="M403.5,222.8 L403.6,221.4 L403.6,219.9 L403.7,219.1 L403.8,217.4 L403.9,216.5 L404.0,214.6 L404.1,213.6 L404.2,212.6 L404.4,211.6 L404.5,210.5 L404.8,208.3 L404.9,207.2 L405.3,204.9 L405.4,203.8 L406.0,200.2 L406.4,197.7 L406.6,196.5 L406.9,195.3 L407.1,194.0 L407.3,192.8 L407.6,191.5 L407.8,190.3 L408.1,189.1 L408.3,187.8 L408.8,185.4 L409.1,184.1 L409.6,181.7 L410.4,178.2 L410.7,177.1 L411.3,174.9 L411.6,173.8 L411.8,172.8 L412.4,170.7 L412.9,168.8 L413.8,166.1 L414.3,164.5 L414.5,163.8 L414.8,163.0 L415.1,162.3 L415.3,161.7 L415.8,160.5 L416.0,159.9 L416.2,159.4 L416.4,159.0 L416.7,158.6 L416.9,158.2 L417.1,157.8 L417.3,157.5 L417.5,157.3 L417.6,157.1 L417.8,156.9 L418.0,156.8 L418.1,156.7 L418.3,156.7 L418.4,156.7 L477.5,163.1 L478.0,163.2 L478.6,163.3 L479.1,163.5 L479.6,163.7 L480.2,163.9 L480.7,164.2 L481.2,164.5 L481.7,164.8 L482.2,165.2 L482.7,165.7 L483.2,166.1 L483.7,166.6 L484.1,167.2 L484.6,167.8 L485.0,168.4 L485.5,169.0 L485.9,169.7 L486.3,170.4 L486.6,171.2 L487.0,171.9 L487.4,172.8 L487.7,173.6 L488.0,174.5 L488.3,175.4 L488.6,176.3 L488.9,177.2 L489.1,178.2 L489.4,179.2 L489.6,180.2 L489.8,181.3 L490.0,182.3 L490.1,183.4 L490.3,184.5 L490.4,185.6 L490.5,186.7 L490.6,187.9 L490.6,189.0 L490.7,190.2 L490.7,191.3 L490.7,192.5 L490.7,193.7 L490.7,194.8 L490.6,196.0 L490.5,197.2 L490.4,198.4 L490.3,199.6 L490.2,200.8 L490.0,201.9 L489.9,203.1 L489.7,204.2 L489.5,205.4 L489.2,206.6 L489.0,207.7 L488.7,208.8 L488.5,209.9 L488.2,211.0 L487.9,212.1 L487.5,213.1 L487.2,214.1 L486.8,215.1 L486.4,216.1 L486.1,217.1 L485.6,218.0 L485.2,218.9 L484.8,219.8 L484.4,220.7 L483.9,221.5 L483.4,222.3 L483.0,223.1 L482.5,223.8 L482.0,224.6 L481.5,225.2 L481.0,225.9 L480.4,226.5 L479.9,227.0 L479.4,227.6 L478.8,228.1 L478.3,228.5 L477.7,228.9 L477.2,229.3 L476.6,229.6 L476.0,229.9 L475.5,230.2 L474.9,230.4 L474.4,230.6 L473.8,230.7 L473.2,230.8 L472.7,230.9 L472.1,230.9 L404.7,227.9 L404.6,227.9 L404.4,227.9 L404.3,227.8 L404.2,227.7 L404.1,227.5 L404.0,227.3 L403.9,227.0 L403.8,226.7 L403.8,226.3 L403.7,225.9 L403.6,225.5 L403.6,225.1 L403.6,224.5 L403.6,224.0 L403.5,223.4 Z" fill="url(#ring)"/>
<path d="M404.5,227.6 L409.7,229.5 L417.5,230.2 L420.8,232.1 L440.0,231.0 L457.0,229.0 L457.0,221.0 L406.0,221.0 Z" fill="url(#ring)"/>
<ellipse cx="474.5" cy="197" rx="16" ry="34" transform="rotate(5 474.5 197)" fill="#84981c"/>
<path d="M458.6,200.0 L457.3,222.0 L457.8,235.0 L462.0,257.0 L470.4,280.4 L473.4,290.0 L480.0,306.8 L490.1,323.5 L503.5,340.3 L517.0,352.0 L527.0,360.4 L532.0,370.4 L533.7,380.0 L530.7,389.6 L525.5,405.3 L522.9,418.3 L520.2,444.4 L517.6,480.0 L514.5,505.0 L511.0,531.5 L527.4,524.9 L529.0,505.0 L530.7,480.0 L532.0,444.4 L533.3,418.3 L535.9,405.3 L541.0,392.0 L544.8,382.0 L544.6,375.0 L542.0,362.0 L537.0,353.7 L527.0,345.3 L518.5,338.0 L511.0,327.0 L505.1,314.5 L495.8,295.9 L486.5,277.2 L479.0,258.6 L474.5,246.0 L472.0,230.5 L487.5,229.0 L488.5,205.0 L476.0,200.0 Z" fill="#84981c"/>
<path d="M404.6,227.9 L404.4,227.8 L404.2,227.7 L404.0,227.4 L403.9,227.0 L403.8,226.5 L403.7,226.0 L403.6,225.3 L403.6,224.5 L403.5,223.7 L403.5,222.8 L403.6,221.8 L403.6,220.7 L403.6,219.5 L403.7,218.3 L403.8,217.0 L403.9,215.6 L404.1,214.1 L404.3,212.6 L404.4,211.1 L404.6,209.5 L404.9,207.8 L405.1,206.1 L405.4,204.4 L405.6,202.6 L405.9,200.8 L406.2,199.0 L406.5,197.1 L406.9,195.3 L407.2,193.4 L407.6,191.5 L407.9,189.7 L408.3,187.8 L408.7,186.0 L409.1,184.1 L409.5,182.3 L409.9,180.6 L410.3,178.8 L410.7,177.1 L411.1,175.4 L411.6,173.8 L412.0,172.3 L412.4,170.7 L412.8,169.3 L413.2,167.9 L413.6,166.6 L414.0,165.3 L414.4,164.1 L414.8,163.0 L415.2,162.0 L415.5,161.1 L415.9,160.2 L416.2,159.4 L416.6,158.8 L416.9,158.2 L417.2,157.7 L417.5,157.3 L417.7,157.0 L418.0,156.8 L418.2,156.7 L418.4,156.7 L420.0,155.5 L473.2,163.9 L473.6,163.8 L474.0,163.6 L474.4,163.5 L474.8,163.4 L475.2,163.3 L475.6,163.2 L476.0,163.1 L476.3,163.1 L476.7,163.1 L477.1,163.1 L477.5,163.1 L477.9,163.2 L478.3,163.2 L478.6,163.3 L479.0,163.4 L479.4,163.6 L479.8,163.7 L480.1,163.9 L480.5,164.0 L480.8,164.2 L481.2,164.5 L481.6,164.7 L481.9,164.9 L482.2,165.2 L482.6,165.5 L482.9,165.8 L483.2,166.1 L483.6,166.5 L483.9,166.9 L484.2,167.2 L484.5,167.6 L484.8,168.1 L485.1,168.5 L485.4,168.9 L485.7,169.4 L486.0,169.9 L486.2,170.4 L486.5,170.9 L486.8,171.4 L487.0,171.9" stroke="#100c06" stroke-width="1.55" stroke-dasharray="5 1.4" fill="none"/>
<path d="M477.5,163.1 L477.0,163.1 L476.6,163.1 L476.2,163.1 L475.8,163.2 L475.4,163.2 L474.9,163.3 L474.5,163.4 L474.1,163.6 L473.7,163.7 L473.2,163.9 L472.8,164.1 L472.4,164.4 L472.0,164.6 L471.6,164.9 L471.1,165.2 L470.7,165.5 L470.3,165.8 L469.9,166.2 L469.5,166.6 L469.1,167.0 L468.7,167.4 L468.3,167.8 L467.9,168.3 L467.5,168.8 L467.1,169.3 L466.8,169.8 L466.4,170.3 L466.0,170.9 L465.7,171.5 L465.3,172.1 L465.0,172.7 L464.6,173.3 L464.3,173.9 L464.0,174.6 L463.7,175.3 L463.3,176.0 L463.0,176.7 L462.7,177.4 L462.5,178.1 L462.2,178.9 L461.9,179.6 L461.6,180.4 L461.4,181.2 L461.1,181.9 L460.9,182.7 L460.7,183.6 L460.5,184.4 L460.3,185.2 L460.1,186.0 L459.9,186.9 L459.7,187.7 L459.5,188.6 L459.4,189.5 L459.2,190.3 L459.1,191.2 L459.0,192.1 L458.8,193.0 L458.7,193.8 L458.6,194.7 L458.6,195.6 L458.6,200.0 L457.3,222.0 L457.8,235.0 L462.0,257.0 L470.4,280.4 L473.4,290.0 L480.0,306.8 L490.1,323.5 L503.5,340.3 L517.0,352.0 L527.0,360.4 L532.0,370.4 L533.7,380.0 L530.7,389.6 L525.5,405.3 L522.9,418.3 L520.2,444.4 L517.6,480.0 L514.5,505.0 L511.0,531.5" stroke="#100c06" stroke-width="1.55" stroke-dasharray="5 1.4" fill="none"/>
<path d="M472.0,230.5 L474.5,246.0 L479.0,258.6 L486.5,277.2 L495.8,295.9 L505.1,314.5 L511.0,327.0 L518.5,338.0 L527.0,345.3 L537.0,353.7 L542.0,362.0 L544.6,375.0 L544.8,382.0 L541.0,392.0 L535.9,405.3 L533.3,418.3 L532.0,444.4 L530.7,480.0 L529.0,505.0 L527.4,524.9" stroke="#100c06" stroke-width="1.55" stroke-dasharray="5 1.4" fill="none"/>
<path d="M488.5,207.0 L487.5,229.0 L472.0,230.5" stroke="#100c06" stroke-width="1.55" stroke-dasharray="5 1.4" fill="none"/>
<path d="M419.5,224.7 L457.3,228.5" stroke="#100c06" stroke-width="1.55" stroke-dasharray="5 1.4" fill="none"/>
<path d="M404.5,227.6 L409.7,229.5 L417.5,230.2 L420.8,232.1 L422.1,236.0 L423.5,240.2 L436.9,277.0 L443.6,300.0 L459.6,330.0 L470.0,352.0 L478.4,365.4 L485.0,380.0 L495.4,400.0 L496.3,410.0 L496.7,440.0 L497.5,484.0 L498.2,532.5" stroke="#100c06" stroke-width="1.55" stroke-dasharray="5 1.4" fill="none"/>
<path d="M511.0,531.5 L498.2,532.5" stroke="#100c06" stroke-width="1.55" stroke-dasharray="5 1.4" fill="none"/>
<path d="M511.0,531.5 L527.4,524.9" stroke="#100c06" stroke-width="1.55" stroke-dasharray="5 1.4" fill="none"/>
<ellipse cx="521.4" cy="499.8" rx="1.6" ry="2.2" transform="rotate(0 521.4 499.8)" fill="#202008"/>
<ellipse cx="519.4" cy="517" rx="1.6" ry="2.2" transform="rotate(0 519.4 517)" fill="#202008"/>
<g clip-path="url(#pclip)"><g transform="translate(476,179.4) rotate(10.326)"><rect x="-12" y="-1" width="482" height="27.08" fill="url(#blueR)"/></g></g>
<path d="M472.1,207.3 L471.7,206.9 L471.3,206.4 L470.9,205.9 L470.5,205.4 L470.2,204.8 L469.8,204.1 L469.5,203.4 L469.2,202.7 L468.9,202.0 L468.7,201.2 L468.4,200.4 L468.2,199.6 L468.0,198.7 L467.9,197.8 L467.8,196.9 L467.6,196.0 L467.6,195.1 L467.5,194.2 L467.5,193.2 L467.5,192.3 L467.5,191.4 L467.6,190.5 L467.7,189.5 L467.8,188.6 L468.0,187.8 L468.1,186.9 L468.3,186.0 L468.5,185.2 L468.8,184.4 L469.0,183.7 L469.3,182.9 L469.6,182.2 L470.0,181.6 L470.3,180.9 L470.7,180.4 L471.1,179.8 L471.5,179.3 L471.9,178.9 L472.3,178.5 L472.8,178.2" fill="none" stroke="#101008" stroke-width="2.4"/>
<path d="M538.0,211.5 L603.0,223.5" stroke="#100c06" stroke-width="1.55" stroke-dasharray="5 1.4" fill="none"/>
<path d="M802.0,260.4 L847.5,268.6" stroke="#100c06" stroke-width="1.55" stroke-dasharray="5 1.4" fill="none"/>
<path d="M929.0,279.0 L929.0,278.2 L929.0,277.4 L929.1,276.5 L929.1,275.7 L929.2,274.9 L929.2,274.1 L929.3,273.3 L929.5,272.5 L929.6,271.7 L929.7,271.0 L930.0,269.4 L930.2,268.7 L930.4,268.0 L930.5,267.2 L930.8,266.6 L931.0,265.9 L931.2,265.2 L931.4,264.5 L931.7,263.9 L932.0,263.3 L932.2,262.7 L932.5,262.1 L932.8,261.5 L933.1,261.0 L933.4,260.5 L933.7,260.0 L934.1,259.5 L934.4,259.1 L934.8,258.6 L935.1,258.2 L935.5,257.9 L935.8,257.5 L936.2,257.2 L936.6,256.9 L937.0,256.6 L1016.6,203.6 L1018.3,202.5 L1020.0,201.5 L1021.7,200.6 L1023.3,199.9 L1025.0,199.2 L1026.7,198.7 L1028.4,198.3 L1030.0,198.0 L1031.7,197.8 L1033.3,197.7 L1034.9,197.8 L1036.5,198.0 L1038.1,198.3 L1039.7,198.7 L1041.2,199.2 L1042.8,199.9 L1044.3,200.7 L1045.7,201.5 L1047.2,202.5 L1048.6,203.6 L1050.0,204.8 L1051.3,206.2 L1052.6,207.6 L1053.9,209.2 L1055.1,210.8 L1056.3,212.6 L1057.5,214.4 L1058.6,216.4 L1059.7,218.4 L1060.7,220.6 L1061.6,222.8 L1062.6,225.1 L1063.4,227.5 L1064.3,230.0 L1065.0,232.6 L1065.8,235.2 L1066.4,237.9 L1067.0,240.7 L1067.6,243.6 L1068.1,246.5 L1068.5,249.5 L1068.9,252.5 L1069.2,255.6 L1069.5,258.7 L1069.7,261.9 L1069.9,265.1 L1070.0,268.4 L1070.0,271.7 L1070.0,275.0 L1070.0,278.3 L1069.8,281.7 L1069.6,285.1 L1069.4,288.4 L1069.1,291.8 L1068.7,295.2 L1068.3,298.6 L1067.8,302.0 L1067.3,305.4 L1066.7,308.8 L1066.0,312.2 L1065.3,315.5 L1064.6,318.8 L1063.8,322.1 L1062.9,325.4 L1062.0,328.6 L1061.1,331.8 L1060.1,334.9 L1059.0,338.0 L1057.9,341.0 L1056.8,344.0 L1055.6,346.9 L1054.4,349.7 L1053.1,352.5 L1051.8,355.2 L1050.5,357.9 L1049.1,360.4 L1047.7,362.9 L1046.3,365.3 L1044.8,367.7 L1043.4,369.9 L1041.8,372.0 L1040.3,374.1 L1038.7,376.0 L1037.2,377.9 L1035.6,379.6 L1033.9,381.3 L1032.3,382.8 L1030.7,384.2 L1029.0,385.6 L1027.3,386.8 L1025.7,387.9 L1024.0,388.9 L1022.3,389.8 L1020.7,390.5 L1019.0,391.2 L1017.3,391.7 L1015.6,392.1 L1014.0,392.4 L1012.3,392.6 L1010.7,392.7 L1009.1,392.6 L1007.5,392.4 L1005.9,392.1 L1004.3,391.7 L1002.8,391.2 L1001.2,390.5 L999.7,389.8 L998.3,388.9 L996.8,387.9 L995.4,386.8 L994.0,385.6 L992.7,384.2 L991.4,382.8 L990.1,381.2 L988.9,379.6 L987.7,377.8 L933.7,298.0 L933.4,297.5 L933.1,297.0 L932.8,296.5 L932.5,295.9 L932.2,295.3 L932.0,294.7 L931.7,294.1 L931.4,293.5 L931.2,292.8 L931.0,292.1 L930.8,291.4 L930.5,290.8 L930.4,290.0 L930.2,289.3 L930.0,288.6 L929.7,287.0 L929.6,286.3 L929.5,285.5 L929.3,284.7 L929.2,283.9 L929.2,283.1 L929.1,282.3 L929.1,281.5 L929.0,280.6 L929.0,279.8 Z" fill="url(#rcone)"/>
<path d="M929.0,279.0 L929.0,278.2 L929.0,277.4 L929.1,276.5 L929.1,275.7 L929.2,274.9 L929.2,274.1 L929.3,273.3 L929.5,272.5 L929.6,271.7 L929.7,271.0 L930.0,269.4 L930.2,268.7 L930.4,268.0 L930.5,267.2 L930.8,266.6 L931.0,265.9 L931.2,265.2 L931.4,264.5 L931.7,263.9 L932.0,263.3 L932.2,262.7 L932.5,262.1 L932.8,261.5 L933.1,261.0 L933.4,260.5 L933.7,260.0 L934.1,259.5 L934.4,259.1 L934.8,258.6 L935.1,258.2 L935.5,257.9 L935.8,257.5 L936.2,257.2 L936.6,256.9 L937.0,256.6 L1016.6,203.6 L1018.3,202.5 L1020.0,201.5 L1021.7,200.6 L1023.3,199.9 L1025.0,199.2 L1026.7,198.7 L1028.4,198.3 L1030.0,198.0 L1031.7,197.8 L1033.3,197.7 L1034.9,197.8 L1036.5,198.0 L1038.1,198.3 L1039.7,198.7 L1041.2,199.2 L1042.8,199.9 L1044.3,200.7 L1045.7,201.5 L1047.2,202.5 L1048.6,203.6 L1050.0,204.8 L1051.3,206.2 L1052.6,207.6 L1053.9,209.2 L1055.1,210.8 L1056.3,212.6 L1057.5,214.4 L1058.6,216.4 L1059.7,218.4 L1060.7,220.6 L1061.6,222.8 L1062.6,225.1 L1063.4,227.5 L1064.3,230.0 L1065.0,232.6 L1065.8,235.2 L1066.4,237.9 L1067.0,240.7 L1067.6,243.6 L1068.1,246.5 L1068.5,249.5 L1068.9,252.5 L1069.2,255.6 L1069.5,258.7 L1069.7,261.9 L1069.9,265.1 L1070.0,268.4 L1070.0,271.7 L1070.0,275.0 L1070.0,278.3 L1069.8,281.7 L1069.6,285.1 L1069.4,288.4 L1069.1,291.8 L1068.7,295.2 L1068.3,298.6 L1067.8,302.0 L1067.3,305.4 L1066.7,308.8 L1066.0,312.2 L1065.3,315.5 L1064.6,318.8 L1063.8,322.1 L1062.9,325.4 L1062.0,328.6 L1061.1,331.8 L1060.1,334.9 L1059.0,338.0 L1057.9,341.0 L1056.8,344.0 L1055.6,346.9 L1054.4,349.7 L1053.1,352.5 L1051.8,355.2 L1050.5,357.9 L1049.1,360.4 L1047.7,362.9 L1046.3,365.3 L1044.8,367.7 L1043.4,369.9 L1041.8,372.0 L1040.3,374.1 L1038.7,376.0 L1037.2,377.9 L1035.6,379.6 L1033.9,381.3 L1032.3,382.8 L1030.7,384.2 L1029.0,385.6 L1027.3,386.8 L1025.7,387.9 L1024.0,388.9 L1022.3,389.8 L1020.7,390.5 L1019.0,391.2 L1017.3,391.7 L1015.6,392.1 L1014.0,392.4 L1012.3,392.6 L1010.7,392.7 L1009.1,392.6 L1007.5,392.4 L1005.9,392.1 L1004.3,391.7 L1002.8,391.2 L1001.2,390.5 L999.7,389.8 L998.3,388.9 L996.8,387.9 L995.4,386.8 L994.0,385.6 L992.7,384.2 L991.4,382.8 L990.1,381.2 L988.9,379.6 L987.7,377.8 L933.7,298.0 L933.4,297.5 L933.1,297.0 L932.8,296.5 L932.5,295.9 L932.2,295.3 L932.0,294.7 L931.7,294.1 L931.4,293.5 L931.2,292.8 L931.0,292.1 L930.8,291.4 L930.5,290.8 L930.4,290.0 L930.2,289.3 L930.0,288.6 L929.7,287.0 L929.6,286.3 L929.5,285.5 L929.3,284.7 L929.2,283.9 L929.2,283.1 L929.1,282.3 L929.1,281.5 L929.0,280.6 L929.0,279.8 Z" fill="url(#rct)"/>
<path d="M929.0,279.0 L929.0,278.2 L929.0,277.4 L929.1,276.5 L929.1,275.7 L929.2,274.9 L929.2,274.1 L929.3,273.3 L929.5,272.5 L929.6,271.7 L929.7,271.0 L930.0,269.4 L930.2,268.7 L930.4,268.0 L930.5,267.2 L930.8,266.6 L931.0,265.9 L931.2,265.2 L931.4,264.5 L931.7,263.9 L932.0,263.3 L932.2,262.7 L932.5,262.1 L932.8,261.5 L933.1,261.0 L933.4,260.5 L933.7,260.0 L934.1,259.5 L934.4,259.1 L934.8,258.6 L935.1,258.2 L935.5,257.9 L935.8,257.5 L936.2,257.2 L936.6,256.9 L937.0,256.6 L1016.6,203.6 L1018.3,202.5 L1020.0,201.5 L1021.7,200.6 L1023.3,199.9 L1025.0,199.2 L1026.7,198.7 L1028.4,198.3 L1030.0,198.0 L1031.7,197.8 L1033.3,197.7 L1034.9,197.8 L1036.5,198.0 L1038.1,198.3 L1039.7,198.7 L1041.2,199.2 L1042.8,199.9 L1044.3,200.7 L1045.7,201.5 L1047.2,202.5 L1048.6,203.6 L1050.0,204.8 L1051.3,206.2 L1052.6,207.6 L1053.9,209.2 L1055.1,210.8 L1056.3,212.6 L1057.5,214.4 L1058.6,216.4 L1059.7,218.4 L1060.7,220.6 L1061.6,222.8 L1062.6,225.1 L1063.4,227.5 L1064.3,230.0 L1065.0,232.6 L1065.8,235.2 L1066.4,237.9 L1067.0,240.7 L1067.6,243.6 L1068.1,246.5 L1068.5,249.5 L1068.9,252.5 L1069.2,255.6 L1069.5,258.7 L1069.7,261.9 L1069.9,265.1 L1070.0,268.4 L1070.0,271.7 L1070.0,275.0 L1070.0,278.3 L1069.8,281.7 L1069.6,285.1 L1069.4,288.4 L1069.1,291.8 L1068.7,295.2 L1068.3,298.6 L1067.8,302.0 L1067.3,305.4 L1066.7,308.8 L1066.0,312.2 L1065.3,315.5 L1064.6,318.8 L1063.8,322.1 L1062.9,325.4 L1062.0,328.6 L1061.1,331.8 L1060.1,334.9 L1059.0,338.0 L1057.9,341.0 L1056.8,344.0 L1055.6,346.9 L1054.4,349.7 L1053.1,352.5 L1051.8,355.2 L1050.5,357.9 L1049.1,360.4 L1047.7,362.9 L1046.3,365.3 L1044.8,367.7 L1043.4,369.9 L1041.8,372.0 L1040.3,374.1 L1038.7,376.0 L1037.2,377.9 L1035.6,379.6 L1033.9,381.3 L1032.3,382.8 L1030.7,384.2 L1029.0,385.6 L1027.3,386.8 L1025.7,387.9 L1024.0,388.9 L1022.3,389.8 L1020.7,390.5 L1019.0,391.2 L1017.3,391.7 L1015.6,392.1 L1014.0,392.4 L1012.3,392.6 L1010.7,392.7 L1009.1,392.6 L1007.5,392.4 L1005.9,392.1 L1004.3,391.7 L1002.8,391.2 L1001.2,390.5 L999.7,389.8 L998.3,388.9 L996.8,387.9 L995.4,386.8 L994.0,385.6 L992.7,384.2 L991.4,382.8 L990.1,381.2 L988.9,379.6 L987.7,377.8 L933.7,298.0 L933.4,297.5 L933.1,297.0 L932.8,296.5 L932.5,295.9 L932.2,295.3 L932.0,294.7 L931.7,294.1 L931.4,293.5 L931.2,292.8 L931.0,292.1 L930.8,291.4 L930.5,290.8 L930.4,290.0 L930.2,289.3 L930.0,288.6 L929.7,287.0 L929.6,286.3 L929.5,285.5 L929.3,284.7 L929.2,283.9 L929.2,283.1 L929.1,282.3 L929.1,281.5 L929.0,280.6 L929.0,279.8 Z" fill="url(#rcb)"/>
<path d="M974.0,318.7 L974.0,315.4 L974.0,312.1 L974.2,308.7 L974.4,305.3 L974.6,301.9 L974.9,298.6 L975.3,295.1 L975.7,291.8 L976.2,288.4 L976.7,285.0 L977.3,281.6 L978.0,278.2 L978.7,274.9 L979.4,271.6 L980.2,268.3 L981.1,265.0 L982.0,261.8 L982.9,258.6 L983.9,255.5 L985.0,252.4 L986.1,249.4 L987.2,246.4 L988.4,243.5 L989.6,240.7 L990.9,237.9 L992.2,235.2 L993.5,232.5 L994.9,229.9 L996.3,227.5 L997.7,225.1 L999.1,222.7 L1000.6,220.5 L1002.2,218.4 L1003.7,216.3 L1005.3,214.4 L1006.8,212.5 L1008.4,210.8 L1010.1,209.1 L1011.7,207.6 L1013.3,206.2 L1015.0,204.8 L1016.6,203.6 L1018.3,202.5 L1020.0,201.5 L1021.7,200.6 L1023.3,199.9 L1025.0,199.2 L1026.7,198.7 L1028.4,198.3 L1030.0,198.0 L1031.7,197.8 L1033.3,197.7 L1051.3,197.8 L1053.0,197.8 L1054.5,198.0 L1056.1,198.3 L1057.7,198.8 L1059.2,199.3 L1060.8,200.0 L1062.3,200.7 L1063.7,201.6 L1065.2,202.6 L1066.6,203.7 L1067.9,204.9 L1069.3,206.2 L1070.6,207.7 L1071.8,209.2 L1073.1,210.8 L1074.2,212.6 L1075.4,214.4 L1076.5,216.4 L1077.5,218.4 L1078.5,220.5 L1079.5,222.7 L1080.4,225.0 L1081.3,227.4 L1082.1,229.9 L1082.9,232.4 L1083.6,235.0 L1084.2,237.7 L1084.8,240.5 L1085.4,243.3 L1085.9,246.2 L1086.3,249.1 L1086.7,252.1 L1087.0,255.2 L1087.2,258.3 L1087.5,261.4 L1087.6,264.6 L1087.7,267.8 L1087.7,271.1 L1087.7,274.3 L1087.6,277.6 L1087.5,281.0 L1087.2,284.3 L1087.0,287.6 L1086.7,291.0 L1086.3,294.4 L1085.8,297.7 L1085.4,301.1 L1084.8,304.4 L1084.2,307.7 L1083.5,311.1 L1082.8,314.4 L1082.1,317.6 L1081.3,320.9 L1080.4,324.1 L1079.5,327.2 L1078.5,330.4 L1077.5,333.5 L1076.5,336.5 L1075.4,339.5 L1074.2,342.4 L1073.0,345.3 L1071.8,348.1 L1070.5,350.8 L1069.2,353.5 L1067.9,356.1 L1066.5,358.6 L1065.1,361.1 L1063.7,363.5 L1062.2,365.7 L1060.7,367.9 L1059.2,370.0 L1057.7,372.1 L1056.1,374.0 L1054.5,375.8 L1052.9,377.5 L1051.3,379.1 L1049.7,380.6 L1048.0,382.0 L1046.4,383.3 L1044.7,384.5 L1043.0,385.6 L1041.4,386.6 L1039.7,387.4 L1038.0,388.2 L1036.3,388.8 L1034.7,389.3 L1033.0,389.7 L1031.3,390.0 L1014.0,392.4 L1012.3,392.6 L1010.7,392.7 L1009.1,392.6 L1007.5,392.4 L1005.9,392.1 L1004.3,391.7 L1002.8,391.2 L1001.2,390.5 L999.7,389.8 L998.3,388.9 L996.8,387.9 L995.4,386.8 L994.0,385.6 L992.7,384.2 L991.4,382.8 L990.1,381.2 L988.9,379.6 L987.7,377.8 L986.5,376.0 L985.4,374.0 L984.4,372.0 L983.3,369.8 L982.4,367.6 L981.4,365.3 L980.6,362.9 L979.7,360.4 L979.0,357.8 L978.2,355.2 L977.6,352.4 L977.0,349.7 L976.4,346.8 L975.9,343.9 L975.5,340.9 L975.1,337.9 L974.8,334.8 L974.5,331.7 L974.3,328.5 L974.1,325.3 L974.0,322.0 Z" fill="url(#rrim)"/>
<ellipse cx="1039.7" cy="294" rx="46.2" ry="97.1" transform="rotate(8.8 1039.7 294)" fill="#a26e16"/>
<path d="M929.0,279.0 L929.0,278.2 L929.0,277.4 L929.1,276.5 L929.1,275.7 L929.2,274.9 L929.2,274.1 L929.3,273.3 L929.5,272.5 L929.6,271.7 L929.7,271.0 L930.0,269.4 L930.2,268.7 L930.4,268.0 L930.5,267.2 L930.8,266.6 L931.0,265.9 L931.2,265.2 L931.4,264.5 L931.7,263.9 L932.0,263.3 L932.2,262.7 L932.5,262.1 L932.8,261.5 L933.1,261.0 L933.4,260.5 L933.7,260.0 L934.1,259.5 L934.4,259.1 L934.8,258.6 L935.1,258.2 L935.5,257.9 L935.8,257.5 L936.2,257.2 L936.6,256.9 L937.0,256.6 L1016.6,203.6 L1018.3,202.5 L1020.0,201.5 L1021.7,200.6 L1023.3,199.9 L1025.0,199.2 L1026.7,198.7 L1028.4,198.3 L1030.0,198.0 L1031.7,197.8 L1033.3,197.7 L1051.3,197.8 L1053.0,197.8 L1054.5,198.0 L1056.1,198.3 L1057.7,198.8 L1059.2,199.3 L1060.8,200.0 L1062.3,200.7 L1063.7,201.6 L1065.2,202.6 L1066.6,203.7 L1067.9,204.9 L1069.3,206.2 L1070.6,207.7 L1071.8,209.2 L1073.1,210.8 L1074.2,212.6 L1075.4,214.4 L1076.5,216.4 L1077.5,218.4 L1078.5,220.5 L1079.5,222.7 L1080.4,225.0 L1081.3,227.4 L1082.1,229.9 L1082.9,232.4 L1083.6,235.0 L1084.2,237.7 L1084.8,240.5 L1085.4,243.3 L1085.9,246.2 L1086.3,249.1 L1086.7,252.1 L1087.0,255.2 L1087.2,258.3 L1087.5,261.4 L1087.6,264.6 L1087.7,267.8 L1087.7,271.1 L1087.7,274.3 L1087.6,277.6 L1087.5,281.0 L1087.2,284.3 L1087.0,287.6 L1086.7,291.0 L1086.3,294.4 L1085.8,297.7 L1085.4,301.1 L1084.8,304.4 L1084.2,307.7 L1083.5,311.1 L1082.8,314.4 L1082.1,317.6 L1081.3,320.9 L1080.4,324.1 L1079.5,327.2 L1078.5,330.4 L1077.5,333.5 L1076.5,336.5 L1075.4,339.5 L1074.2,342.4 L1073.0,345.3 L1071.8,348.1 L1070.5,350.8 L1069.2,353.5 L1067.9,356.1 L1066.5,358.6 L1065.1,361.1 L1063.7,363.5 L1062.2,365.7 L1060.7,367.9 L1059.2,370.0 L1057.7,372.1 L1056.1,374.0 L1054.5,375.8 L1052.9,377.5 L1051.3,379.1 L1049.7,380.6 L1048.0,382.0 L1046.4,383.3 L1044.7,384.5 L1043.0,385.6 L1041.4,386.6 L1039.7,387.4 L1038.0,388.2 L1036.3,388.8 L1034.7,389.3 L1033.0,389.7 L1031.3,390.0 L1014.0,392.4 L1012.3,392.6 L1010.7,392.7 L1009.1,392.6 L1007.5,392.4 L1005.9,392.1 L1004.3,391.7 L1002.8,391.2 L1001.2,390.5 L999.7,389.8 L998.3,388.9 L996.8,387.9 L995.4,386.8 L994.0,385.6 L992.7,384.2 L991.4,382.8 L990.1,381.2 L988.9,379.6 L987.7,377.8 L933.7,298.0 L933.4,297.5 L933.1,297.0 L932.8,296.5 L932.5,295.9 L932.2,295.3 L932.0,294.7 L931.7,294.1 L931.4,293.5 L931.2,292.8 L931.0,292.1 L930.8,291.4 L930.5,290.8 L930.4,290.0 L930.2,289.3 L930.0,288.6 L929.7,287.0 L929.6,286.3 L929.5,285.5 L929.3,284.7 L929.2,283.9 L929.2,283.1 L929.1,282.3 L929.1,281.5 L929.0,280.6 L929.0,279.8 Z" fill="none" stroke="#5a3c08" stroke-width="1.1" stroke-dasharray="5 1.4"/>
<path d="M936.6,301.1 L936.1,300.7 L935.7,300.4 L935.3,299.9 L934.9,299.5 L934.5,299.0 L934.1,298.5 L933.7,297.9 L933.3,297.3 L933.0,296.7 L932.6,296.1 L932.3,295.4 L932.0,294.7 L931.6,294.0 L931.4,293.3 L931.1,292.5 L930.8,291.7 L930.6,290.9 L930.3,290.0 L930.1,289.2 L929.9,288.3 L929.8,287.4 L929.6,286.5 L929.5,285.6 L929.3,284.7 L929.2,283.8 L929.2,282.8 L929.1,281.9 L929.0,280.9 L929.0,280.0 L929.0,279.0 L929.0,278.0 L929.0,277.1 L929.1,276.1 L929.2,275.2 L929.2,274.2 L929.3,273.3 L929.5,272.4 L929.6,271.5 L929.8,270.6 L929.9,269.7 L930.1,268.8 L930.3,268.0 L930.6,267.1 L930.8,266.3 L931.1,265.5 L931.4,264.7 L931.6,264.0 L932.0,263.3 L932.3,262.6 L932.6,261.9 L933.0,261.3 L933.3,260.7 L933.7,260.1 L934.1,259.5 L934.5,259.0 L934.9,258.5 L935.3,258.1 L935.7,257.6 L936.1,257.3 L936.6,256.9" stroke="#100c06" stroke-width="1.55" stroke-dasharray="5 1.4" fill="none"/>
<path d="M1016.6,203.6 L1018.3,202.5 L1020.0,201.5 L1021.7,200.6 L1023.3,199.9 L1025.0,199.2 L1026.7,198.7 L1028.4,198.3 L1030.0,198.0 L1031.7,197.8 L1033.3,197.7 L1051.3,197.8 L1053.0,197.8 L1054.5,198.0 L1056.1,198.3 L1057.7,198.8 L1059.2,199.3 L1060.8,200.0 L1062.3,200.7 L1063.7,201.6 L1065.2,202.6 L1066.6,203.7 L1067.9,204.9 L1069.3,206.2 L1070.6,207.7 L1071.8,209.2 L1073.1,210.8 L1074.2,212.6 L1075.4,214.4 L1076.5,216.4 L1077.5,218.4 L1078.5,220.5 L1079.5,222.7 L1080.4,225.0 L1081.3,227.4 L1082.1,229.9 L1082.9,232.4 L1083.6,235.0 L1084.2,237.7 L1084.8,240.5 L1085.4,243.3 L1085.9,246.2 L1086.3,249.1 L1086.7,252.1 L1087.0,255.2 L1087.2,258.3 L1087.5,261.4 L1087.6,264.6 L1087.7,267.8 L1087.7,271.1 L1087.7,274.3 L1087.6,277.6 L1087.5,281.0 L1087.2,284.3 L1087.0,287.6 L1086.7,291.0 L1086.3,294.4 L1085.8,297.7 L1085.4,301.1 L1084.8,304.4 L1084.2,307.7 L1083.5,311.1 L1082.8,314.4 L1082.1,317.6 L1081.3,320.9 L1080.4,324.1 L1079.5,327.2 L1078.5,330.4 L1077.5,333.5 L1076.5,336.5 L1075.4,339.5 L1074.2,342.4 L1073.0,345.3 L1071.8,348.1 L1070.5,350.8 L1069.2,353.5 L1067.9,356.1 L1066.5,358.6 L1065.1,361.1 L1063.7,363.5 L1062.2,365.7 L1060.7,367.9 L1059.2,370.0 L1057.7,372.1 L1056.1,374.0 L1054.5,375.8 L1052.9,377.5 L1051.3,379.1 L1049.7,380.6 L1048.0,382.0 L1046.4,383.3 L1044.7,384.5 L1043.0,385.6 L1041.4,386.6 L1039.7,387.4 L1038.0,388.2 L1036.3,388.8 L1034.7,389.3 L1033.0,389.7 L1031.3,390.0 L1014.0,392.4 L1012.3,392.6 L1010.7,392.7 L1009.1,392.6 L1007.5,392.4 L1005.9,392.1 L1004.3,391.7 L1002.8,391.2 L1001.2,390.5" stroke="#100c06" stroke-width="1.55" stroke-dasharray="5 1.4" fill="none"/>
<path d="M1005.9,392.1 L1004.3,391.7 L1002.8,391.2 L1001.3,390.6 L999.9,389.8 L998.4,389.0 L997.0,388.0 L995.6,386.9 L994.3,385.8 L993.0,384.5 L991.7,383.1 L990.4,381.6 L989.2,380.0 L988.0,378.3 L986.9,376.6 L985.8,374.7 L984.7,372.7 L983.7,370.7 L982.7,368.5 L981.8,366.3 L980.9,363.9 L980.1,361.6 L979.3,359.1 L978.6,356.5 L977.9,353.9 L977.3,351.2 L976.7,348.5 L976.2,345.6 L975.7,342.8 L975.3,339.8 L975.0,336.9 L974.7,333.8 L974.4,330.8 L974.2,327.6 L974.1,324.5 L974.0,321.3 L974.0,318.1 L974.0,314.8 L974.1,311.6 L974.2,308.3 L974.4,305.0 L974.7,301.7 L975.0,298.3 L975.3,295.0 L975.7,291.7 L976.2,288.4 L976.7,285.0 L977.3,281.7 L977.9,278.5 L978.6,275.2 L979.3,271.9 L980.1,268.7 L980.9,265.5 L981.8,262.4 L982.7,259.3 L983.7,256.2 L984.7,253.2 L985.8,250.2 L986.9,247.3 L988.0,244.4 L989.2,241.6 L990.4,238.9 L991.7,236.2 L993.0,233.6 L994.3,231.0 L995.6,228.6 L997.0,226.2 L998.4,223.9 L999.9,221.6 L1001.3,219.5 L1002.8,217.5 L1004.4,215.5 L1005.9,213.6 L1007.4,211.9 L1009.0,210.2 L1010.6,208.6 L1012.2,207.1 L1013.8,205.8 L1015.4,204.5 L1017.1,203.3 L1018.7,202.3 L1020.3,201.3 L1022.0,200.5 L1023.6,199.8 L1025.2,199.1 L1026.9,198.6 L1028.5,198.2 L1030.1,198.0 L1031.7,197.8 L1033.3,197.7 L1034.9,197.8" stroke="#100c06" stroke-width="1.55" stroke-dasharray="5 1.4" fill="none"/>
<path d="M1085.4,301.1 L1084.2,307.7 L1082.8,314.4 L1081.3,320.9 L1079.5,327.2 L1077.5,333.5 L1075.4,339.5 L1073.0,345.3 L1070.5,350.8 L1067.9,356.1 L1065.1,361.1 L1062.2,365.7 L1059.2,370.0 L1056.1,374.0 L1052.9,377.5 L1049.7,380.6 L1046.4,383.3 L1043.0,385.6 L1039.7,387.4 L1036.3,388.8 L1033.0,389.7 L1029.7,390.2 L1026.4,390.1 L1023.3,389.7 L1020.2,388.7 L1017.1,387.3 L1014.2,385.4 L1011.5,383.1 L1008.8,380.3 L1006.3,377.1 L1004.0,373.6 L1001.9,369.6 L999.9,365.3 L998.1,360.6 L996.5,355.6 L995.2,350.3 L994.0,344.7 L993.1,338.9 L992.4,332.8 L991.9,326.6 L991.7,320.2 L991.7,313.7 L992.0,307.0 L992.4,300.4 L993.1,293.6 L994.0,286.9 L995.2,280.3 L996.6,273.6 L998.1,267.1 L999.9,260.8 L1001.9,254.5 L1004.0,248.5 L1006.4,242.7 L1008.9,237.2 L1011.5,231.9 L1014.3,226.9 L1017.2,222.3 L1020.2,218.0 L1023.3,214.0 L1026.5,210.5 L1029.7,207.4 L1033.0,204.7 L1036.4,202.4 L1039.7,200.6 L1043.1,199.2 L1046.4,198.3 L1049.7,197.8 L1053.0,197.9 L1056.1,198.3 L1059.2,199.3 L1062.3,200.7 L1065.2,202.6 L1067.9,204.9 L1070.6,207.7 L1073.1,210.9 L1075.4,214.4 L1077.5,218.4 L1079.5,222.7 L1081.3,227.4 L1082.9,232.4 L1084.2,237.7 L1085.4,243.3 L1086.3,249.1 L1087.0,255.2 L1087.5,261.4 L1087.7,267.8 L1087.7,274.3 L1087.4,281.0 L1087.0,287.6 L1086.3,294.4 L1085.4,301.1" stroke="#100c06" stroke-width="1.55" stroke-dasharray="5 1.4" fill="none"/>
<path d="M1022.3,281.3 L1024.5,277.9 L1033.5,274.0 L1038.0,275.1 L1043.5,283.5 L1032.4,302.0 L1022.3,306.4 Z" fill="#eaae2c" stroke="#141008" stroke-width="1.2" stroke-dasharray="3 1.1"/>
<path d="M1025.0,282.0 L1036.0,277.0 L1040.0,283.0 L1030.0,298.0 L1025.0,300.0 Z" fill="#f2bc38" opacity="0.6"/>
<ellipse cx="1046" cy="290" rx="6.2" ry="6.6" transform="rotate(0 1046 290)" fill="#7e8c58"/>
<path d="M1043.0,292.6 L1040.4,297.4 L1035.2,297.4 L1032.6,292.6 L1035.2,287.8 L1040.4,287.8 L1043.0,292.6 Z" fill="#3c4820" stroke="#1a2008" stroke-width="1.2"/>
<ellipse cx="1038" cy="292.6" rx="2.2" ry="2.4" transform="rotate(0 1038 292.6)" fill="#7a8850"/>
<ellipse cx="1038.2" cy="261" rx="1.4" ry="2.4" transform="rotate(0 1038.2 261)" fill="#201808"/>
<ellipse cx="1037.7" cy="347.5" rx="1.4" ry="2.2" transform="rotate(0 1037.7 347.5)" fill="#201808"/>
<text x="-1.50" y="23.80">Side Mounting Bracket Left</text>
<text x="470.85" y="80.75">Mounting Bracket</text>
<text x="633.50" y="302.60">Cowl Pipe</text>
<text x="266.30" y="416.50">Center Support</text>
<text x="897.90" y="445.50">Side Mounting Bracket Right</text>
</svg>
</body></html>
